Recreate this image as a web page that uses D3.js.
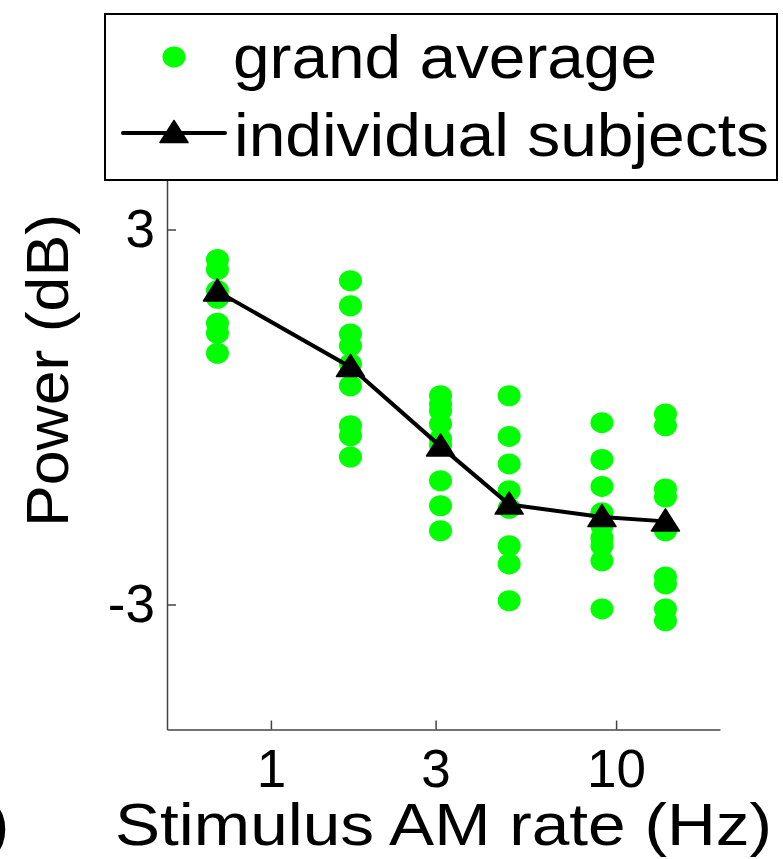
<!DOCTYPE html>
<html>
<head>
<meta charset="utf-8">
<script src="https://cdn.jsdelivr.net/npm/d3@7"></script>
<style>
  body { margin: 0; background: #fff; }
  svg text { font-family: "Liberation Sans", Arial, Helvetica, sans-serif; fill: #000; }
</style>
</head>
<body>
<svg id="chart" width="783" height="859"></svg>
<script>
// AM rates (Hz) at which power was measured
const rates = [0.7, 1.7, 3.1, 4.9, 9.1, 13.9];

// Power (dB) of each subject at each rate
const subjectPower = [
  [2.52, 2.36, 2.02, 1.90, 1.50, 1.34, 1.02],
  [2.18, 1.78, 1.33, 1.14, 0.85, 0.50, -0.14, -0.30, -0.64],
  [0.34, 0.21, 0.10, -0.11, -0.35, -0.45, -1.02, -1.42, -1.82],
  [0.34, -0.31, -0.75, -1.18, -1.46, -2.06, -2.35, -2.94],
  [-0.09, -0.68, -1.11, -1.53, -1.74, -1.93, -2.06, -2.30, -3.07],
  [0.05, -0.14, -1.15, -1.28, -1.82, -2.56, -2.67, -3.07, -3.26]
];

// Average power (dB) across subjects
const meanPower = [2.01, 0.80, -0.47, -1.40, -1.60, -1.67];

const xTicks = [1, 3, 10];
const yTicks = [-3, 3];
const xLabel = "Stimulus AM rate (Hz)";
const yLabel = "Power (dB)";
const legendLabels = ["grand average", "individual subjects"];

const GREEN = "#00ff00";
const svg = d3.select("#chart");

const x = d3.scaleLog().domain([0.5, 20]).range([167, 720]);
const y = d3.scaleLinear().domain([-5, 5]).range([729.5, 104.5]);

// axes (ticks point inward, no box)
const xAxis = svg.append("g")
  .attr("transform", `translate(0,${y(-5)})`)
  .call(d3.axisBottom(x).tickValues(xTicks).tickFormat(d3.format("d"))
    .tickSize(-9).tickSizeOuter(0).tickPadding(20));
const yAxis = svg.append("g")
  .attr("transform", `translate(${x(0.5)},0)`)
  .call(d3.axisLeft(y).tickValues(yTicks).tickFormat(d3.format("d"))
    .tickSize(-9).tickSizeOuter(0).tickPadding(12));

[xAxis, yAxis].forEach(g => {
  g.select(".domain").attr("stroke", "#444").attr("stroke-width", 1.5);
  g.selectAll(".tick line").attr("stroke", "#444").attr("stroke-width", 1.5);
  g.selectAll(".tick text").attr("font-size", 53)
    .style("font-family", '"Liberation Sans", Arial, sans-serif');
});
yAxis.selectAll(".tick text").text(d => d < 0 ? "-" + Math.abs(d) : d);

// individual subject points
const pts = [];
subjectPower.forEach((col, i) => col.forEach(v => pts.push({ r: rates[i], v })));
svg.append("g").selectAll("ellipse").data(pts).join("ellipse")
  .attr("cx", d => x(d.r)).attr("cy", d => y(d.v))
  .attr("rx", 11.5).attr("ry", 10.5)
  .attr("fill", GREEN);

// average line with triangle markers
const avg = rates.map((r, i) => ({ r, v: meanPower[i] }));
svg.append("path").datum(avg)
  .attr("d", d3.line().x(d => x(d.r)).y(d => y(d.v)))
  .attr("fill", "none").attr("stroke", "#000").attr("stroke-width", 4)
  .attr("stroke-linejoin", "round");

const tri = "M0,-12.5L14,9.5L-14,9.5Z";
svg.append("g").selectAll("path").data(avg).join("path")
  .attr("d", tri)
  .attr("transform", d => `translate(${x(d.r)},${y(d.v)})`)
  .attr("fill", "#000").attr("stroke", "#000").attr("stroke-width", 1.5)
  .attr("stroke-linejoin", "round");

// axis titles
svg.append("text")
  .attr("x", 115).attr("y", 845)
  .attr("font-size", 59)
  .attr("textLength", 657).attr("lengthAdjust", "spacingAndGlyphs")
  .text(xLabel);

svg.append("text")
  .attr("transform", "rotate(-90)")
  .attr("x", -527).attr("y", 68)
  .attr("font-size", 60)
  .attr("textLength", 313).attr("lengthAdjust", "spacingAndGlyphs")
  .text(yLabel);

// edge of neighbouring panel label
svg.append("text")
  .attr("x", 9).attr("y", 845)
  .attr("text-anchor", "end")
  .attr("font-size", 59)
  .text(")");

// legend
const lg = svg.append("g");
lg.append("rect")
  .attr("x", 105).attr("y", 14).attr("width", 672).attr("height", 166)
  .attr("fill", "#fff").attr("stroke", "#000").attr("stroke-width", 2);
lg.append("ellipse")
  .attr("cx", 174).attr("cy", 57).attr("rx", 11.5).attr("ry", 10.5)
  .attr("fill", GREEN);
lg.append("line")
  .attr("x1", 123).attr("x2", 225).attr("y1", 133).attr("y2", 133)
  .attr("stroke", "#000").attr("stroke-width", 4).attr("stroke-linecap", "round");
lg.append("path").attr("d", tri)
  .attr("transform", "translate(174,133)")
  .attr("fill", "#000").attr("stroke", "#000").attr("stroke-width", 1.5)
  .attr("stroke-linejoin", "round");
const legendText = [
  { t: legendLabels[0], x: 233, y: 78, len: 424 },
  { t: legendLabels[1], x: 234, y: 156, len: 535 }
];
lg.selectAll("text.lbl").data(legendText).join("text")
  .attr("class", "lbl")
  .attr("x", d => d.x).attr("y", d => d.y)
  .attr("font-size", 61)
  .attr("textLength", d => d.len).attr("lengthAdjust", "spacingAndGlyphs")
  .text(d => d.t);
</script>
</body>
</html>
